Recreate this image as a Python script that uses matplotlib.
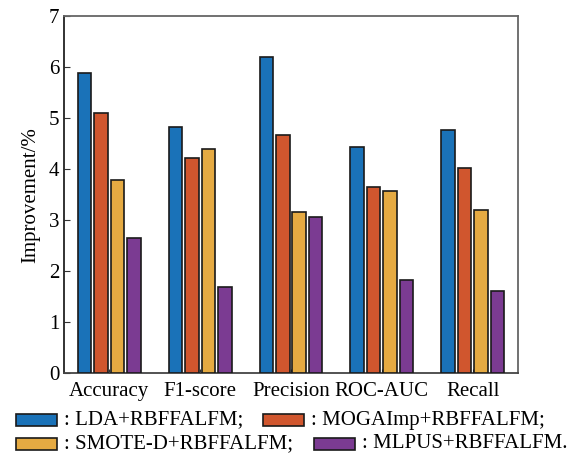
import numpy as np
import matplotlib.pyplot as plt
from matplotlib.patches import Rectangle
from matplotlib import font_manager

names = sorted(set(f.name for f in font_manager.fontManager.ttflist))
print(names)
serif = [n for n in names if 'Serif' in n and 'Liberation' in n]
plt.rcParams['font.family'] = 'serif'
plt.rcParams['font.serif'] = serif + ['DejaVu Serif']

metrics = ['Accuracy', 'F1-score', 'Precision', 'ROC-AUC', 'Recall']
series = ['LDA+RBFFALFM', 'MOGAImp+RBFFALFM', 'SMOTE-D+RBFFALFM', 'MLPUS+RBFFALFM']
lda = [5.88, 4.82, 6.20, 4.44, 4.76]
moga = [5.09, 4.21, 4.67, 3.65, 4.02]
smote = [3.78, 4.40, 3.16, 3.57, 3.19]
mlpus = [2.65, 1.70, 3.06, 1.82, 1.61]
colors = ['#1a72b8', '#d0562e', '#e5aa42', '#7b3b92']

fig = plt.figure(figsize=(5.76, 4.54), dpi=100)
ax = fig.add_axes([64/576, 1-373.3/454, 454/576, 357.3/454])

x = np.arange(len(metrics))
step = 0.181
width = 0.148
for i, vals in enumerate([lda, moga, smote, mlpus]):
    ax.bar(x + (i - 1.5)*step, vals, width, color=colors[i],
           edgecolor='#1a1a1a', linewidth=1.2, label=series[i], zorder=3)

ax.set_xlim(-0.5, 4.5)
ax.set_ylim(0, 7)
ax.set_xticks(x)
ax.set_xticklabels(metrics, fontsize=15)
ax.set_yticks(range(8))
ax.tick_params(axis='y', labelsize=15, direction='in', length=4, color='#333333')
ax.tick_params(axis='x', direction='in', length=3, color='#333333', pad=6)
ax.set_ylabel('Improvement/%', fontsize=15, labelpad=6)
ax.spines['left'].set_color('#222222')
ax.spines['bottom'].set_color('#444444')
ax.spines['top'].set_color('#666666')
ax.spines['right'].set_color('#666666')
for s in ax.spines.values():
    s.set_linewidth(1.3)

# legend laid out by hand (rows are not column aligned in the original)
W, H = 576.0, 454.0
leg = [(16, 420, 0), (263, 420, 1), (16, 444, 2), (314, 444, 3)]
for px, py, i in leg:
    fig.add_artist(Rectangle((px/W, 1-(py+6)/H), 41/W, 12/H, transform=fig.transFigure,
                             facecolor=colors[i], edgecolor='#1a1a1a', linewidth=1.2))
    end = '.' if i == 3 else ';'
    fig.text((px+48)/W, 1-py/H, ': ' + series[i] + end, fontsize=15, va='center', ha='left')

fig.savefig('out.png', dpi=100)
